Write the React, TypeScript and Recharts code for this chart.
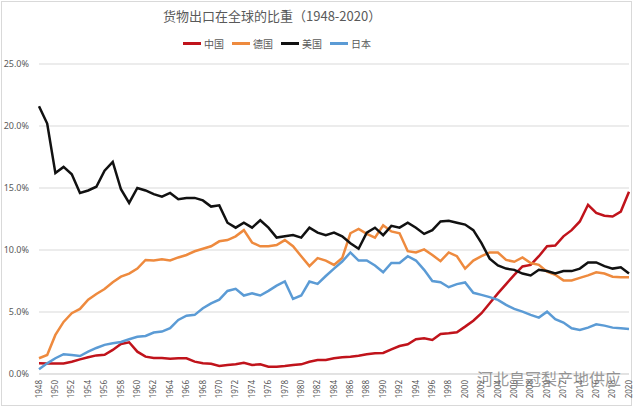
import React from 'react'
import { LineChart, Line, XAxis, YAxis, CartesianGrid } from 'recharts'

const years = Array.from({ length: 73 }, (_, i) => String(1948 + i))

// share of world goods exports, %
const china = [
  0.86, 0.85, 0.85, 0.85, 0.99, 1.18, 1.35, 1.5, 1.55, 1.94, 2.42, 2.56, 1.8, 1.4, 1.29, 1.29, 1.24, 1.28,
  1.27, 1.0, 0.86, 0.82, 0.65, 0.73, 0.78, 0.91, 0.73, 0.78, 0.59, 0.59, 0.65, 0.73, 0.78, 0.99, 1.13, 1.13,
  1.27, 1.35, 1.4, 1.48, 1.59, 1.67, 1.7, 1.99, 2.26, 2.4, 2.8, 2.88, 2.75, 3.23, 3.28, 3.37, 3.82, 4.3,
  4.9, 5.7, 6.5, 7.25, 8.0, 8.67, 8.8, 9.5, 10.3, 10.36, 11.1, 11.6, 12.3, 13.65, 13.0, 12.76, 12.7, 13.1, 14.7
]
const germany = [
  1.27, 1.53, 3.15, 4.2, 4.9, 5.25, 6.0, 6.45, 6.85, 7.4, 7.85, 8.1, 8.5, 9.2, 9.15, 9.25, 9.15, 9.4,
  9.6, 9.9, 10.1, 10.3, 10.7, 10.8, 11.1, 11.6, 10.6, 10.3, 10.3, 10.4, 10.8, 10.3, 9.5, 8.7, 9.35, 9.15,
  8.8, 9.35, 11.35, 11.7, 11.3, 11.0, 12.0, 11.5, 11.35, 9.9, 9.8, 10.05, 9.6, 9.1, 9.8, 9.5, 8.5, 9.15,
  9.5, 9.8, 9.8, 9.2, 9.05, 9.4, 8.95, 8.8, 8.25, 8.0, 7.55, 7.55, 7.75, 7.95, 8.2, 8.1, 7.85, 7.8, 7.8
]
const usa = [
  21.6, 20.2, 16.2, 16.7, 16.1, 14.6, 14.8, 15.1, 16.4, 17.1, 14.9, 13.8, 15.0, 14.8, 14.5, 14.3, 14.6, 14.1,
  14.2, 14.2, 14.0, 13.5, 13.6, 12.2, 11.8, 12.2, 11.8, 12.4, 11.8, 11.0, 11.1, 11.2, 11.0, 11.8, 11.4, 11.2,
  11.4, 11.1, 10.55, 10.1, 11.4, 11.8, 11.2, 11.95, 11.8, 12.2, 11.8, 11.3, 11.6, 12.3, 12.35, 12.2, 12.05, 11.6,
  10.55, 9.3, 8.75, 8.5, 8.4, 8.1, 7.95, 8.4, 8.3, 8.1, 8.3, 8.3, 8.5, 9.0, 9.0, 8.7, 8.5, 8.6, 8.1
]
const japan = [
  0.38, 0.86, 1.27, 1.6, 1.53, 1.45, 1.8, 2.1, 2.35, 2.48, 2.58, 2.8, 3.0, 3.07, 3.34, 3.42, 3.69, 4.36,
  4.7, 4.77, 5.3, 5.7, 6.0, 6.7, 6.87, 6.33, 6.5, 6.33, 6.7, 7.13, 7.46, 6.05, 6.33, 7.46, 7.27, 7.9,
  8.5, 9.07, 9.8, 9.15, 9.15, 8.75, 8.2, 8.95, 8.95, 9.5, 9.15, 8.4, 7.5, 7.4, 7.0, 7.25, 7.38, 6.55,
  6.38, 6.2, 5.98, 5.57, 5.25, 5.03, 4.77, 4.55, 5.03, 4.42, 4.15, 3.69, 3.55, 3.74, 4.01, 3.9, 3.74, 3.69, 3.63
]
const yTicks = [0, 5, 10, 15, 20, 25]

const series = [
  { key: 'china', name: '中国', color: '#C0131B' },
  { key: 'germany', name: '德国', color: '#EE8A3E' },
  { key: 'usa', name: '美国', color: '#111111' },
  { key: 'japan', name: '日本', color: '#5B9BD5' }
]

const data = years.map((year, i) => ({
  year,
  china: china[i],
  germany: germany[i],
  usa: usa[i],
  japan: japan[i]
}))

const gray = '#595959'
const cjk = '"Noto Sans CJK SC", "Noto Sans", sans-serif'

export default function App() {
  return (
    <div style={{ position: 'absolute', left: 0, top: 0, width: 641, height: 406, background: '#fff', fontFamily: cjk }}>
      <div style={{ position: 'absolute', left: 1, top: 1, width: 629, height: 403, border: '1px solid #d9d9d9' }} />
      <div style={{ position: 'absolute', left: 0, top: 6, width: 520, textAlign: 'center', fontSize: 13, color: gray, marginLeft: 0, paddingLeft: 0 }}>
        <span style={{ position: 'absolute', left: 163, whiteSpace: 'nowrap' }}>货物出口在全球的比重（1948-2020）</span>
      </div>
      <div style={{ position: 'absolute', top: 36, left: 183, display: 'flex', gap: 8, fontSize: 10, color: gray }}>
        {series.map(s => (
          <div key={s.key} style={{ display: 'flex', alignItems: 'center', gap: 3 }}>
            <div style={{ width: 18, height: 3, background: s.color }} />
            <span>{s.name}</span>
          </div>
        ))}
      </div>
      <LineChart width={641} height={406} data={data} margin={{ top: 64, right: 12, left: 0, bottom: 0 }}>
        <CartesianGrid vertical={false} stroke="#d9d9d9" />
        <XAxis
          dataKey="year"
          interval={1}
          angle={-90}
          textAnchor="end"
          height={32}
          tickLine={false}
          tickSize={4}
          tickMargin={2}
          axisLine={{ stroke: '#d9d9d9' }}
          tick={{ fill: gray, fontSize: 8, fontFamily: '"Noto Sans", sans-serif', dx: -3 }}
        />
        <YAxis
          width={39}
          domain={[0, 25]}
          ticks={yTicks}
          axisLine={false}
          tickLine={false}
          tickMargin={4}
          tickFormatter={(v: number) => `${v.toFixed(1)}%`}
          tick={{ fill: gray, fontSize: 9, fontFamily: '"Noto Sans", sans-serif' }}
        />
        {series.map(s => (
          <Line
            key={s.key}
            type="linear"
            dataKey={s.key}
            name={s.name}
            stroke={s.color}
            strokeWidth={2.5}
            dot={false}
            isAnimationActive={false}
          />
        ))}
      </LineChart>
      <div style={{ position: 'absolute', left: 477, top: 366, fontSize: 16, color: 'rgba(120,120,120,0.75)', whiteSpace: 'nowrap', letterSpacing: 0 }}>
        河北皇冠梨产地供应
      </div>
    </div>
  )
}
